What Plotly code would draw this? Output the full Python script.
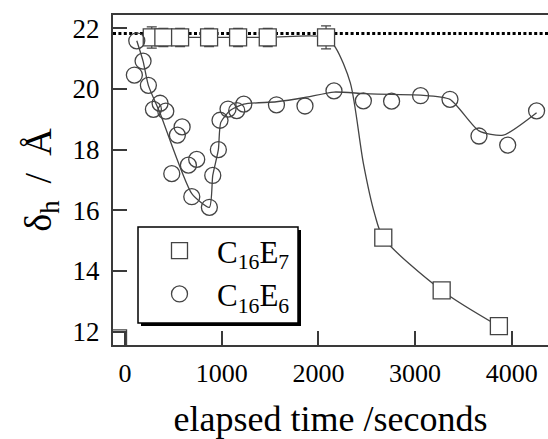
import plotly.graph_objects as go

# ---- data ----
# C16E7 (squares)
e7_time = [276, 396, 569, 869, 1169, 1476, 2079, 2671, 3275, 3867]
e7_delta = [21.70, 21.70, 21.70, 21.70, 21.70, 21.70, 21.70, 15.10, 13.36, 12.18]
e7_err = [0.35, 0.30, 0.30, 0.30, 0.30, 0.30, 0.38, 0.10, 0.10, 0.10]
# partially visible square at the lower-left corner
e7_corner_time = [-73]
e7_corner_delta = [11.78]

# C16E7 guide curve (drawn through nodes)
e7_fit_time = [276, 869, 1476, 2079, 2180, 2330, 2465, 2580, 2671, 3275, 3867]
e7_fit_delta = [21.70, 21.70, 21.70, 21.70, 21.35, 20.20, 17.55, 15.90, 15.10, 13.36, 12.18]

# C16E6 (circles)
e6_time = [96, 121, 186, 241, 293, 362, 421, 483, 541, 590, 655, 690, 741, 872,
           907, 965, 982, 1065, 1155, 1228, 1566, 1861, 2161, 2465, 2757, 3057,
           3361, 3661, 3958, 4257]
e6_delta = [20.46, 21.59, 20.92, 20.12, 19.33, 19.53, 19.27, 17.21, 18.48, 18.75,
            17.49, 16.45, 17.68, 16.10, 17.15, 18.00, 18.97, 19.34, 19.29, 19.50,
            19.48, 19.44, 19.94, 19.61, 19.60, 19.78, 19.66, 18.45, 18.15, 19.28]

# C16E6 guide curve nodes
e6_fit_time = [121, 186, 241, 362, 690, 872, 907, 965, 990, 1090, 1228, 1566,
               1861, 2161, 2465, 2757, 3057, 3361, 3661, 3912, 4257]
e6_fit_delta = [21.59, 20.92, 20.12, 19.20, 16.55, 16.10, 17.15, 18.00, 18.90,
                19.30, 19.50, 19.58, 19.72, 19.90, 19.85, 19.82, 19.80, 19.66,
                18.62, 18.48, 19.22]

plateau_level = 21.83

x_ticks = [0, 1000, 2000, 3000, 4000]
y_ticks = [12, 14, 16, 18, 20, 22]
x_range = [-125, 4375]
y_range = [11.56, 22.44]

FONT = "Liberation Serif, Times New Roman, serif"
AXIS_COLOR = "#3a3a3a"
MARK_COLOR = "#444444"

fig = go.Figure()

fig.add_hline(y=plateau_level, line=dict(color="black", width=3, dash="3px,2.4px"),
              layer="below")

fig.add_trace(go.Scatter(x=e7_fit_time, y=e7_fit_delta, mode="lines",
                         line=dict(color=MARK_COLOR, width=1.3, shape="spline", smoothing=0.8),
                         showlegend=False, hoverinfo="skip"))
fig.add_trace(go.Scatter(x=e6_fit_time, y=e6_fit_delta, mode="lines",
                         line=dict(color=MARK_COLOR, width=1.3, shape="spline", smoothing=0.6),
                         showlegend=False, hoverinfo="skip"))

fig.add_trace(go.Scatter(
    x=e7_time, y=e7_delta, mode="markers", name="C<sub>16</sub>E<sub>7</sub>",
    marker=dict(symbol="square", size=17, color="white",
                line=dict(color=MARK_COLOR, width=1.3)),
    error_y=dict(type="data", array=e7_err, visible=True, color=MARK_COLOR,
                 thickness=1.2, width=5)))
fig.add_trace(go.Scatter(
    x=e7_corner_time, y=e7_corner_delta, mode="markers", showlegend=False,
    marker=dict(symbol="square-open", size=17, color=MARK_COLOR,
                line=dict(color=MARK_COLOR, width=1.3)), hoverinfo="skip"))
fig.add_trace(go.Scatter(
    x=e6_time, y=e6_delta, mode="markers", name="C<sub>16</sub>E<sub>6</sub>",
    marker=dict(symbol="circle-open", size=16, color=MARK_COLOR,
                line=dict(color=MARK_COLOR, width=1.3))))

# legend frame with drop shadow (pixel box 138..298 x 227..323)
PW, PH = 435.0, 330.0
bx0, bx1 = (138 - 113) / PW, (298 - 113) / PW
by1, by0 = (345 - 227) / PH, (345 - 323) / PH
fig.add_shape(type="rect", xref="paper", yref="paper",
              x0=bx0 + 3 / PW, x1=bx1 + 3 / PW, y0=by0 - 3 / PH, y1=by1 - 3 / PH,
              fillcolor="black", line=dict(width=0), layer="above")
fig.add_shape(type="rect", xref="paper", yref="paper",
              x0=bx0, x1=bx1, y0=by0, y1=by1,
              fillcolor="white", line=dict(color="black", width=1.5), layer="above")

fig.update_layout(
    width=548, height=439,
    margin=dict(l=113, r=0, t=15, b=94),
    paper_bgcolor="white", plot_bgcolor="white",
    font=dict(family=FONT, color="black", size=26),
    legend=dict(x=(142 - 113) / PW, y=(345 - 224) / PH, xanchor="left", yanchor="top",
                bgcolor="rgba(0,0,0,0)", borderwidth=0,
                font=dict(size=31, family=FONT), itemwidth=65,
                tracegroupgap=0),
    xaxis=dict(range=x_range, tickvals=x_ticks, ticks="inside", ticklen=14,
               tickwidth=2, tickcolor=AXIS_COLOR, showline=True, linewidth=2,
               linecolor=AXIS_COLOR, mirror=True, showgrid=False, zeroline=False,
               tickfont=dict(size=26), ticklabelstandoff=4,
               title=dict(text="elapsed time /seconds", font=dict(size=36), standoff=20)),
    yaxis=dict(range=y_range, tickvals=y_ticks, ticks="inside", ticklen=14,
               tickwidth=2, tickcolor=AXIS_COLOR, showline=True, linewidth=2,
               linecolor=AXIS_COLOR, showgrid=False, zeroline=False,
               tickfont=dict(size=27), ticklabelstandoff=6,
               title=dict(text="δ<sub>h</sub>\u2009 /\u2009 Å", font=dict(size=38), standoff=9)),
)

fig.write_html("out.html", post_script="document.body.style.margin='0';",
               config={"displayModeBar": False})
